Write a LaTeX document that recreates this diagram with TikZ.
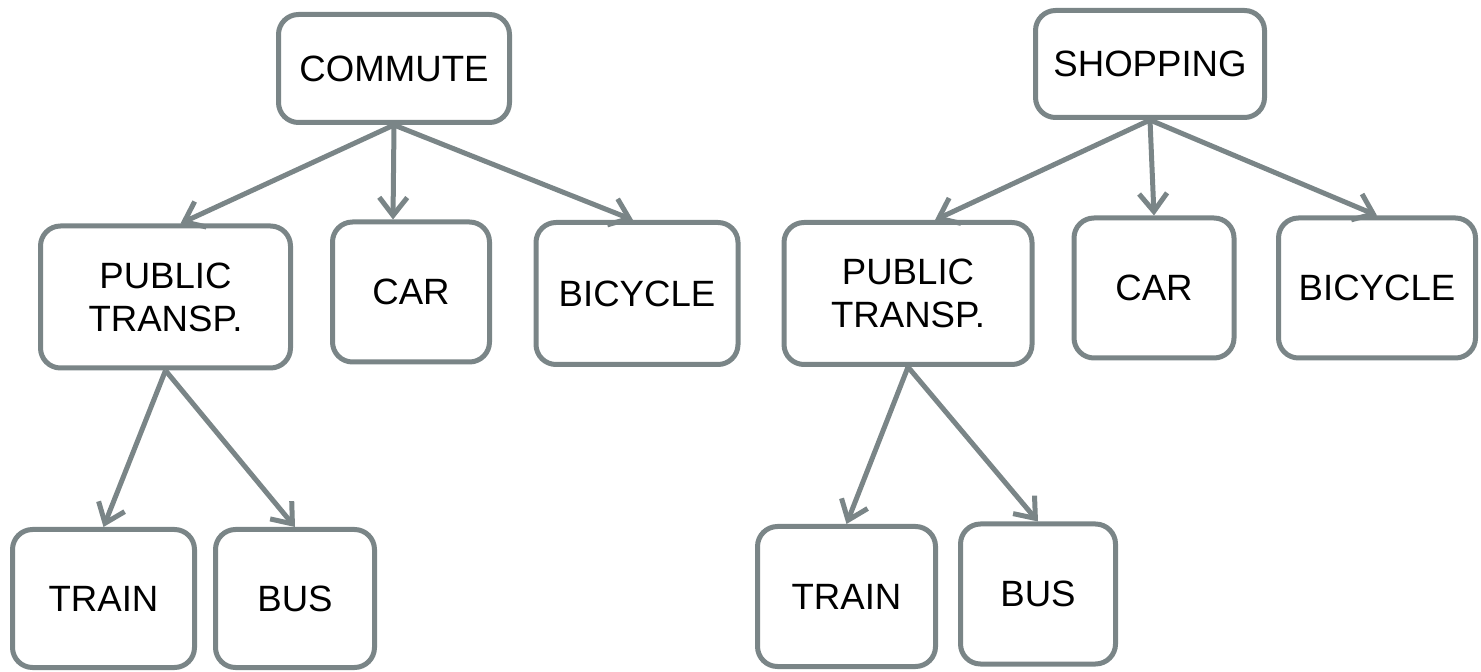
\documentclass[tikz,border=0pt]{standalone}
\usepackage{fontspec}
\setmainfont{Liberation Sans}
\usepackage{xcolor}
\usepackage{tikz}
\usetikzlibrary{arrows.meta}

\definecolor{linegray}{HTML}{7A8587}

\tikzset{
	box/.style={draw=linegray, line width=2.5pt, rounded corners=10pt, fill=white, align=center,
		font=\fontsize{18.3}{21.5}\selectfont, inner sep=0pt},
	link/.style={draw=linegray, line width=2.5pt, -{Straight Barb[length=9pt, width=14pt]}}
}

\begin{document}
\begin{tikzpicture}[x=0.5pt, y=-0.5pt]
	\useasboundingbox (0,0) rectangle (1481,672);
	% left tree
	\node[box, minimum width=115.5pt, minimum height=54pt] (commute) at (394,68.5) {COMMUTE};
	\node[box, minimum width=125pt, minimum height=71pt] (ptL) at (165.5,297) {PUBLIC\\TRANSP.};
	\node[box, minimum width=78.5pt, minimum height=70pt] (carL) at (411,292) {CAR};
	\node[box, minimum width=101pt, minimum height=71pt] (bikeL) at (637,293.5) {BICYCLE};
	\node[box, minimum width=91pt, minimum height=69pt] (trainL) at (103.5,598.5) {TRAIN};
	\node[box, minimum width=79.5pt, minimum height=69pt] (busL) at (295,598.5) {BUS};
	% right tree
	\node[box, minimum width=114.5pt, minimum height=53.5pt] (shop) at (1150,64) {SHOPPING};
	\node[box, minimum width=124pt, minimum height=71pt] (ptR) at (908,293.5) {PUBLIC\\TRANSP.};
	\node[box, minimum width=80pt, minimum height=70pt] (carR) at (1154,288) {CAR};
	\node[box, minimum width=98.5pt, minimum height=70pt] (bikeR) at (1377,288) {BICYCLE};
	\node[box, minimum width=89pt, minimum height=70pt] (trainR) at (846.5,596.5) {TRAIN};
	\node[box, minimum width=77.5pt, minimum height=70pt] (busR) at (1038,594) {BUS};
	% connectors
	\draw[link] (commute.south) -- ([xshift=7.5pt]ptL.north);
	\draw[link] (commute.south) -- ([xshift=-9pt]carL.north);
	\draw[link] (commute.south) -- ([xshift=-2pt]bikeL.north);
	\draw[link] (ptL.south) -- (trainL.north);
	\draw[link] (ptL.south) -- (busL.north);
	\draw[link] (shop.south) -- ([xshift=13.5pt]ptR.north);
	\draw[link] (shop.south) -- (carR.north);
	\draw[link] (shop.south) -- (bikeR.north);
	\draw[link] (ptR.south) -- (trainR.north);
	\draw[link] (ptR.south) -- (busR.north);
\end{tikzpicture}
\end{document}
